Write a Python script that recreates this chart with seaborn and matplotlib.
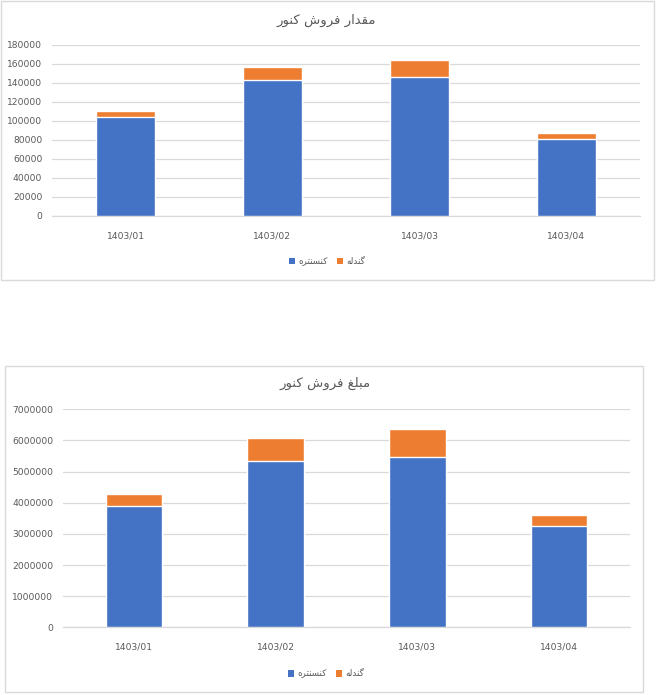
import matplotlib
matplotlib.use("Agg")
import matplotlib.pyplot as plt
from matplotlib.patches import Rectangle, Patch
import seaborn as sns

# ---- data ----
months = ["1403/01", "1403/02", "1403/03", "1403/04"]
series_names = ["کنسنتره", "گندله"]
qty_concentrate = [104300, 143300, 146500, 81000]
qty_pellet = [6300, 13700, 16900, 6400]
amt_concentrate = [3900000, 5347000, 5476000, 3257000]
amt_pellet = [386000, 740000, 900000, 354000]
title_qty = "مقدار فروش کنور"
title_amt = "مبلغ فروش کنور"
qty_ticks = [0, 20000, 40000, 60000, 80000, 100000, 120000, 140000, 160000, 180000]
amt_ticks = [0, 1000000, 2000000, 3000000, 4000000, 5000000, 6000000, 7000000]

BLUE = "#4472C4"
ORANGE = "#ED7D31"
GREY_TXT = "#595959"
GRID = "#D9D9D9"

# minimal Arabic-script shaping (contextual forms + visual order)
FORMS = {
    'م': ('\uFEE1', '\uFEE2', '\uFEE3', '\uFEE4'),
    'ق': ('\uFED5', '\uFED6', '\uFED7', '\uFED8'),
    'د': ('\uFEA9', '\uFEAA', None, None),
    'ا': ('\uFE8D', '\uFE8E', None, None),
    'ر': ('\uFEAD', '\uFEAE', None, None),
    'ف': ('\uFED1', '\uFED2', '\uFED3', '\uFED4'),
    'و': ('\uFEED', '\uFEEE', None, None),
    'ش': ('\uFEB5', '\uFEB6', '\uFEB7', '\uFEB8'),
    'ک': ('\uFB8E', '\uFB8F', '\uFB90', '\uFB91'),
    'گ': ('\uFB92', '\uFB93', '\uFB94', '\uFB95'),
    'ن': ('\uFEE5', '\uFEE6', '\uFEE7', '\uFEE8'),
    'س': ('\uFEB1', '\uFEB2', '\uFEB3', '\uFEB4'),
    'ت': ('\uFE95', '\uFE96', '\uFE97', '\uFE98'),
    'ه': ('\uFEE9', '\uFEEA', '\uFEEB', '\uFEEC'),
    'ب': ('\uFE8F', '\uFE90', '\uFE91', '\uFE92'),
    'ل': ('\uFEDD', '\uFEDE', '\uFEDF', '\uFEE0'),
    'غ': ('\uFECD', '\uFECE', '\uFECF', '\uFED0'),
}


def shape(text):
    out = []
    n = len(text)
    for i, c in enumerate(text):
        if c not in FORMS:
            out.append(c)
            continue
        prev = text[i - 1] if i > 0 else None
        nxt = text[i + 1] if i + 1 < n else None
        jp = prev in FORMS and FORMS[prev][2] is not None
        jn = nxt in FORMS and FORMS[c][2] is not None
        f = FORMS[c]
        if jp and jn:
            out.append(f[3])
        elif jp:
            out.append(f[1])
        elif jn:
            out.append(f[2])
        else:
            out.append(f[0])
    return "".join(reversed(out))


sns.set_theme(style="white")
plt.rcParams["font.family"] = ["DejaVu Sans"]

W, H = 660, 695
fig = plt.figure(figsize=(W / 100, H / 100), dpi=100)


def fx(px):
    return px / W


def fy(py):
    return 1 - py / H


# chart boxes
for (x0, y0, x1, y1) in [(1, 1, 654, 280), (5, 366, 643, 692)]:
    fig.patches.append(Rectangle((fx(x0), fy(y1)), fx(x1) - fx(x0), fy(y0) - fy(y1),
                                 transform=fig.transFigure, fill=False,
                                 edgecolor=GRID, linewidth=1.0))


def draw(ax_rect, blue_vals, orange_vals, ticks, title, title_xy, legend_xy):
    x0, x1, ytop, ybot = ax_rect
    ax = fig.add_axes([fx(x0), fy(ybot), fx(x1) - fx(x0), fy(ytop) - fy(ybot)])
    totals = [b + o for b, o in zip(blue_vals, orange_vals)]
    sns.barplot(x=months, y=totals, color=ORANGE, saturation=1, width=0.4, ax=ax, zorder=3)
    sns.barplot(x=months, y=blue_vals, color=BLUE, saturation=1, width=0.4, ax=ax, zorder=3)
    ax.set_xlim(-0.5, len(months) - 0.5)
    ax.set_ylim(ticks[0], ticks[-1])
    ax.set_yticks(ticks)
    ax.set_yticklabels([str(t) for t in ticks])
    ax.yaxis.grid(True, color=GRID, linewidth=0.9, zorder=0)
    ax.xaxis.grid(False)
    ax.set_axisbelow(True)
    for s in ["top", "right", "left"]:
        ax.spines[s].set_visible(False)
    ax.spines["bottom"].set_color(GRID)
    ax.spines["bottom"].set_linewidth(0.9)
    ax.tick_params(axis="y", length=0, pad=7, labelsize=6.6, labelcolor=GREY_TXT)
    ax.tick_params(axis="x", length=0, pad=11, labelsize=6.6, labelcolor=GREY_TXT)
    ax.set_xlabel("")
    ax.set_ylabel("")
    ax.set_facecolor("none")
    fig.text(fx(title_xy[0]), fy(title_xy[1]), shape(title), ha="center", va="center",
             fontsize=9.5, color=GREY_TXT)
    handles = [Patch(facecolor=BLUE, edgecolor="none"), Patch(facecolor=ORANGE, edgecolor="none")]
    fig.legend(handles, [shape(s) for s in series_names], loc="center",
               bbox_to_anchor=(fx(legend_xy[0]), fy(legend_xy[1])), ncol=2, frameon=False,
               fontsize=6.3, labelcolor=GREY_TXT, handlelength=0.7, handleheight=0.7,
               handletextpad=0.4, columnspacing=1.0, borderpad=0, borderaxespad=0)
    return ax


draw((52, 640, 44.7, 215.8), qty_concentrate, qty_pellet, qty_ticks, title_qty,
     (326, 20), (327, 262))
draw((63, 630, 409.3, 627.3), amt_concentrate, amt_pellet, amt_ticks, title_amt,
     (325, 383), (326, 674))

fig.savefig("out.png", dpi=100, facecolor="white")
